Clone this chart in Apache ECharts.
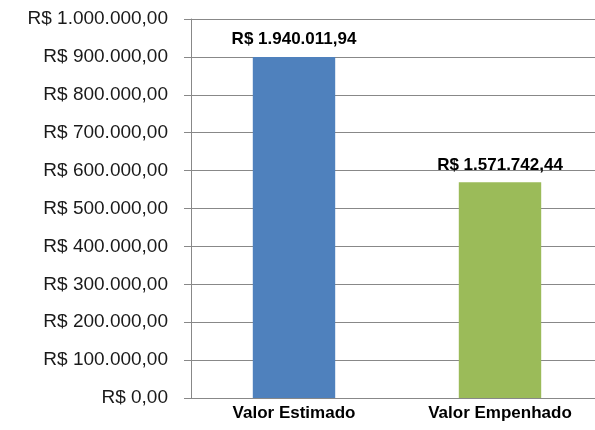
<!DOCTYPE html>
<html>
<head>
<meta charset="utf-8">
<script src="https://cdn.jsdelivr.net/npm/echarts@6/dist/echarts.min.js"></script>
<style>
  html, body { margin: 0; padding: 0; background: #fff; }
  #chart { width: 595px; height: 430px; }
</style>
</head>
<body>
<div id="chart"></div>
<script>
// categorias e valores (altura das barras)
const categories = ['Valor Estimado', 'Valor Empenhado']
const barValues = [900000, 569000]
// rótulos como aparecem no gráfico original
const barLabels = ['R$ 1.940.011,94', 'R$ 1.571.742,44']
const barColors = ['#4F81BD', '#9BBB59']

function formatBRL(v) {
  const parts = Math.round(v).toString().replace(/\B(?=(\d{3})+(?!\d))/g, '.')
  return 'R$ ' + parts + ',00'
}

const chart = echarts.init(document.getElementById('chart'))

chart.setOption({
  animation: false,
  textStyle: { fontFamily: 'Liberation Sans, Arial, sans-serif' },
  grid: {
    left: 191,
    top: 19,
    width: 412,
    height: 379,
    outerBoundsMode: 'none'
  },
  xAxis: {
    type: 'category',
    data: categories,
    axisLine: { lineStyle: { color: '#888', width: 1 } },
    axisTick: { show: false },
    axisLabel: {
      color: '#000',
      fontWeight: 'bold',
      fontSize: 17,
      margin: 7
    }
  },
  yAxis: {
    type: 'value',
    min: 0,
    max: 1000000,
    interval: 100000,
    axisLine: { show: true, lineStyle: { color: '#888' } },
    axisTick: { show: true, length: 7, lineStyle: { color: '#888' } },
    splitLine: { lineStyle: { color: '#888', width: 1 } },
    axisLabel: {
      color: '#1a1a1a',
      fontSize: 19,
      margin: 23,
      formatter: formatBRL
    }
  },
  series: [
    {
      type: 'bar',
      barWidth: '40%',
      data: barValues.map((v, i) => ({
        value: v,
        itemStyle: { color: barColors[i] }
      })),
      label: {
        show: true,
        position: 'top',
        distance: 9,
        color: '#000',
        fontWeight: 'bold',
        fontSize: 17,
        formatter: p => barLabels[p.dataIndex]
      }
    }
  ]
})
</script>
</body>
</html>
